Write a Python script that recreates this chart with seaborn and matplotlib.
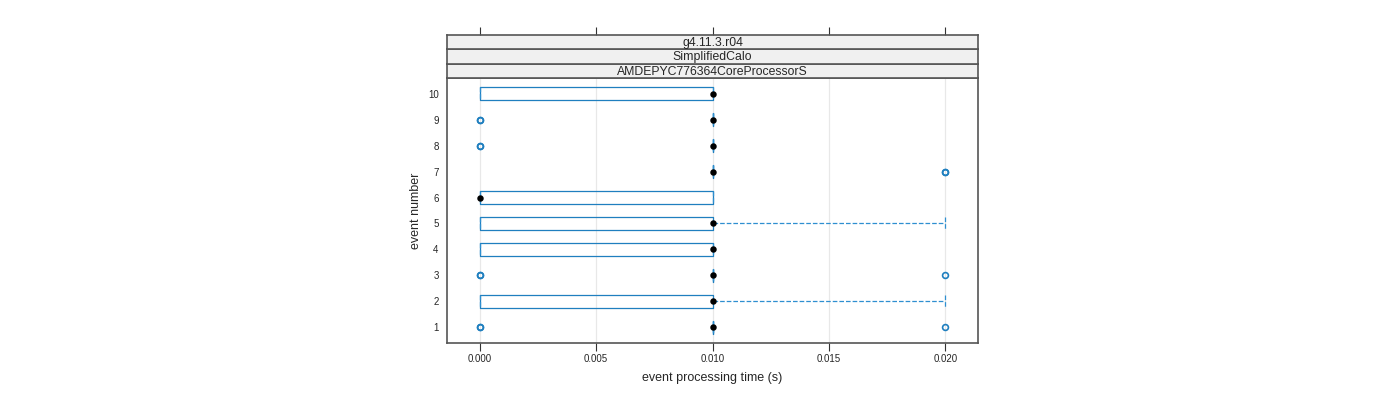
import numpy as np
import pandas as pd
import matplotlib
matplotlib.use("Agg")
import matplotlib.pyplot as plt
import seaborn as sns

# === data: per-event processing times (s) ===
events = [str(i) for i in range(1, 11)]
times_1 = [0.0, 0.0, 0.01, 0.01, 0.01, 0.01, 0.01, 0.01, 0.01, 0.02]
times_2 = [0.0, 0.0, 0.0, 0.0, 0.01, 0.01, 0.01, 0.01, 0.02, 0.02]
times_3 = [0.0, 0.0, 0.01, 0.01, 0.01, 0.01, 0.01, 0.01, 0.01, 0.02]
times_4 = [0.0, 0.0, 0.0, 0.0, 0.01, 0.01, 0.01, 0.01, 0.01, 0.01]
times_5 = [0.0, 0.0, 0.0, 0.0, 0.01, 0.01, 0.01, 0.01, 0.02, 0.02]
times_6 = [0.0, 0.0, 0.0, 0.0, 0.0, 0.0, 0.01, 0.01, 0.01, 0.01]
times_7 = [0.01, 0.01, 0.01, 0.01, 0.01, 0.01, 0.01, 0.01, 0.02, 0.02]
times_8 = [0.0, 0.0, 0.01, 0.01, 0.01, 0.01, 0.01, 0.01, 0.01, 0.01]
times_9 = [0.0, 0.0, 0.01, 0.01, 0.01, 0.01, 0.01, 0.01, 0.01, 0.01]
times_10 = [0.0, 0.0, 0.0, 0.0, 0.01, 0.01, 0.01, 0.01, 0.01, 0.01]
all_times = [times_1, times_2, times_3, times_4, times_5,
             times_6, times_7, times_8, times_9, times_10]

strip_labels = ["g4.11.3.r04", "SimplifiedCalo", "AMDEPYC776364CoreProcessorS"]
x_ticks = [0.000, 0.005, 0.010, 0.015, 0.020]
x_ticklabels = ["0.000", "0.005", "0.010", "0.015", "0.020"]

df = pd.DataFrame({
    "event": np.repeat(events, [len(t) for t in all_times]),
    "time": np.concatenate(all_times),
})

# === style ===
sns.set_style("white")
plt.rcParams["font.family"] = ["Liberation Sans", "DejaVu Sans"]

box_col = "#1f7fbf"
whisk_col = "#2e8fd0"
frame_col = "#555555"
order = events[::-1]  # seaborn puts first category on top

fig = plt.figure(figsize=(14, 4), dpi=100)
left = 447 / 1400
width = (978 - 447) / 1400
bottom = (400 - 343) / 400
height = (343 - 78) / 400
ax = fig.add_axes([left, bottom, width, height])

# light vertical grid
for xt in x_ticks:
    ax.axvline(xt, color="#e8e8e8", lw=0.9, zorder=0)

sns.boxplot(
    data=df, x="time", y="event", order=order, orient="h", ax=ax,
    width=0.5, whis=1.5, fill=False, color=box_col, linewidth=0.9,
    boxprops=dict(color=box_col, linewidth=0.9),
    whiskerprops=dict(linestyle="--", linewidth=0.9),
    capprops=dict(linestyle="--", linewidth=0.9),
    capwidths=0.5,
    medianprops=dict(visible=False),
    flierprops=dict(marker="o", markerfacecolor="none",
                    markeredgecolor=box_col, markersize=4.2, markeredgewidth=1.2),
)
# whiskers and caps in the lighter lattice blue
for ln in ax.lines:
    if ln.get_linestyle() == "--":
        ln.set_color(whisk_col)
        ln.set_alpha(1.0)

# median dots
sns.pointplot(
    data=df, x="time", y="event", order=order, orient="h", ax=ax,
    estimator=np.median, errorbar=None, linestyle="none",
    color="black", markers="o", markersize=2.6,
)

ax.set_xlim(-0.0014, 0.0214)
ax.set_ylim(len(order) - 1 + 0.6, -0.6)
ax.set_xticks(x_ticks)
ax.set_xticklabels(x_ticklabels)
ax.tick_params(axis="x", direction="out", length=6, width=0.8, color="#333333",
               labelsize=7, pad=2, bottom=True)
ax.tick_params(axis="y", length=0, labelsize=7, pad=6)
ax.set_xlabel("event processing time (s)", fontsize=9, labelpad=6)
ax.set_ylabel("event number", fontsize=9, labelpad=4)
for sp in ax.spines.values():
    sp.set_color(frame_col)
    sp.set_linewidth(1.2)

# strips (lattice style)
strip_h = (78 - 35) / 3 / 400
for i, lab in enumerate(strip_labels[::-1]):
    sax = fig.add_axes([left, bottom + height + i * strip_h, width, strip_h])
    sax.set_facecolor("#f0f0f0")
    sax.set_xlim(ax.get_xlim())
    sax.set_yticks([])
    sax.text(0.5, 0.44, lab, ha="center", va="center", fontsize=8.8,
             transform=sax.transAxes)
    for sp in sax.spines.values():
        sp.set_color(frame_col)
        sp.set_linewidth(1.2)
    if i == len(strip_labels) - 1:
        sax.set_xticks(x_ticks)
        sax.tick_params(axis="x", top=True, bottom=False, labeltop=False,
                        labelbottom=False, direction="out", length=6,
                        width=0.8, color="#333333")
    else:
        sax.set_xticks([])

fig.savefig("out.png", dpi=100)
